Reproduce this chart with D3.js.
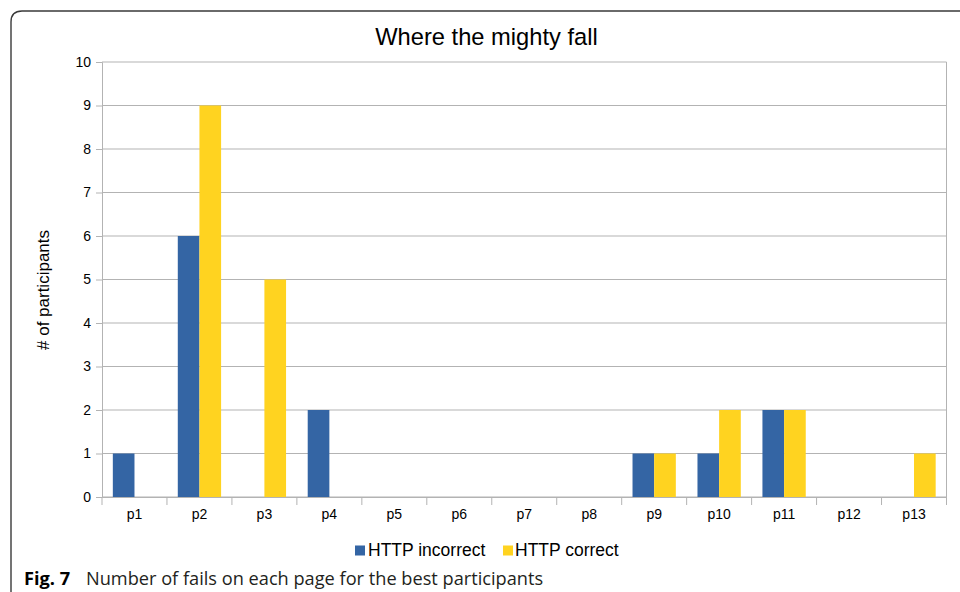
<!DOCTYPE html>
<html>
<head>
<meta charset="utf-8">
<script src="https://cdn.jsdelivr.net/npm/d3@7"></script>
<style>
  html, body { margin: 0; padding: 0; background: #fff; }
  svg { display: block; }
</style>
</head>
<body>
<svg id="chart" width="960" height="592"></svg>
<script>
// Pages and failure counts per group
const pages = ["p1","p2","p3","p4","p5","p6","p7","p8","p9","p10","p11","p12","p13"];
const httpIncorrect = [1, 6, 0, 2, 0, 0, 0, 0, 1, 1, 2, 0, 0];
const httpCorrect   = [0, 9, 5, 0, 0, 0, 0, 0, 1, 2, 2, 0, 1];
const seriesNames = ["HTTP incorrect", "HTTP correct"];
const seriesColors = ["#3465a4", "#ffd320"];
const yTicks = [0, 1, 2, 3, 4, 5, 6, 7, 8, 9, 10];

const svg = d3.select("#chart");
const chartFont = "'Liberation Sans', Arial, sans-serif";
const gridColor = "#b3b3b3";

const plot = { left: 102, right: 946.5, top: 62, bottom: 497 };

// Frame around the figure (rounded top-left corner)
svg.append("path")
  .attr("d", "M11,592 L11,22 Q11,11 22,11 L960,11")
  .attr("fill", "none")
  .attr("stroke", "#3a3a3a")
  .attr("stroke-width", 1.4);

const x = d3.scaleBand()
  .domain(pages)
  .range([plot.left, plot.right])
  .paddingInner(1 / 3)
  .paddingOuter(1 / 6);

const xInner = d3.scaleBand()
  .domain(seriesNames)
  .range([0, x.bandwidth()])
  .padding(0);

const y = d3.scaleLinear()
  .domain([0, 10])
  .range([plot.bottom, plot.top]);

const color = d3.scaleOrdinal().domain(seriesNames).range(seriesColors);

// Horizontal grid lines
svg.append("g")
  .selectAll("line")
  .data(yTicks)
  .join("line")
  .attr("x1", plot.left)
  .attr("x2", plot.right)
  .attr("y1", d => y(d))
  .attr("y2", d => y(d))
  .attr("stroke", gridColor)
  .attr("stroke-width", 1);

// Right border of the plot area
svg.append("line")
  .attr("x1", plot.right).attr("x2", plot.right)
  .attr("y1", plot.top).attr("y2", plot.bottom)
  .attr("stroke", gridColor);

// Y axis
const yAxis = svg.append("g")
  .attr("transform", `translate(${plot.left},0)`)
  .call(d3.axisLeft(y).tickValues(yTicks).tickSize(6).tickPadding(5));
yAxis.select(".domain").attr("stroke", gridColor);
yAxis.selectAll(".tick line").attr("stroke", gridColor);
yAxis.selectAll(".tick text")
  .attr("fill", "#000")
  .style("font-family", chartFont)
  .style("font-size", "14px");

// X axis: ticks at category boundaries
const xAxis = svg.append("g")
  .attr("transform", `translate(0,${plot.bottom})`)
  .call(d3.axisBottom(x).tickSize(0).tickPadding(12));
xAxis.select(".domain").attr("stroke", gridColor);
xAxis.selectAll(".tick text")
  .attr("fill", "#000")
  .style("font-family", chartFont)
  .style("font-size", "14px");
xAxis.selectAll(".boundary")
  .data(d3.range(pages.length + 1))
  .join("line")
  .attr("class", "boundary")
  .attr("x1", i => plot.left + i * x.step())
  .attr("x2", i => plot.left + i * x.step())
  .attr("y1", 0)
  .attr("y2", 8)
  .attr("stroke", gridColor);

// Bars
const rows = pages.map((p, i) => ({
  page: p,
  values: [
    { key: seriesNames[0], value: httpIncorrect[i] },
    { key: seriesNames[1], value: httpCorrect[i] }
  ]
}));

svg.append("g")
  .selectAll("g")
  .data(rows)
  .join("g")
  .attr("transform", d => `translate(${x(d.page)},0)`)
  .selectAll("rect")
  .data(d => d.values.filter(v => v.value > 0))
  .join("rect")
  .attr("x", d => xInner(d.key))
  .attr("width", xInner.bandwidth())
  .attr("y", d => y(d.value))
  .attr("height", d => y(0) - y(d.value))
  .attr("fill", d => color(d.key));

// Title
svg.append("text")
  .attr("x", 486.5)
  .attr("y", 45)
  .attr("text-anchor", "middle")
  .style("font-family", chartFont)
  .style("font-size", "23.7px")
  .attr("fill", "#000")
  .text("Where the mighty fall");

// Y axis title
svg.append("text")
  .attr("transform", "translate(49,290) rotate(-90)")
  .attr("text-anchor", "middle")
  .style("font-family", chartFont)
  .style("font-size", "17px")
  .attr("fill", "#000")
  .text("# of participants");

// Legend
const legendItems = [
  { name: seriesNames[0], sx: 355, tx: 368 },
  { name: seriesNames[1], sx: 503, tx: 515 }
];
const legend = svg.append("g");
legend.selectAll("rect")
  .data(legendItems)
  .join("rect")
  .attr("x", d => d.sx)
  .attr("y", 545.5)
  .attr("width", 10)
  .attr("height", 10)
  .attr("fill", d => color(d.name));
legend.selectAll("text")
  .data(legendItems)
  .join("text")
  .attr("x", d => d.tx)
  .attr("y", 556)
  .style("font-family", chartFont)
  .style("font-size", "17.5px")
  .attr("fill", "#000")
  .text(d => d.name);

// Caption
const caption = svg.append("text")
  .attr("x", 24)
  .attr("y", 584.5)
  .style("font-family", "'Open Sans', 'Noto Sans', sans-serif")
  .style("font-size", "18.2px")
  .attr("fill", "#231f20");
caption.append("tspan").style("font-weight", "bold").attr("fill", "#000").text("Fig. 7");
caption.append("tspan").attr("x", 86).text("Number of fails on each page for the best participants");
</script>
</body>
</html>
